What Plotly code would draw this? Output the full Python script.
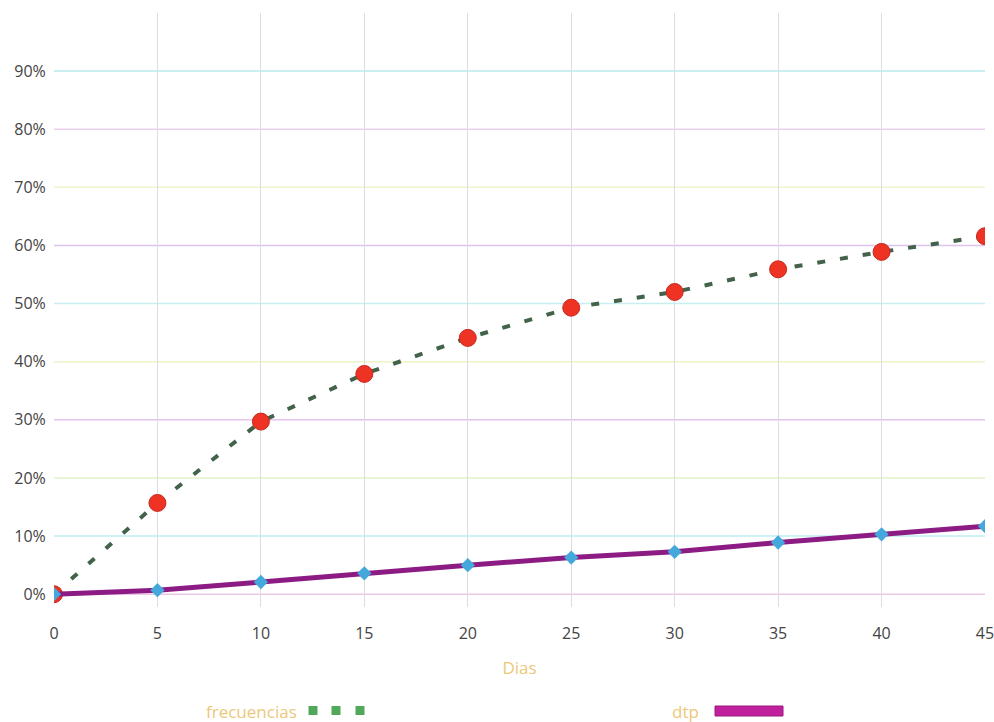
import plotly.graph_objects as go

dias = [0, 5, 10, 15, 20, 25, 30, 35, 40, 45]
frecuencias = [0.0, 15.7, 29.7, 37.9, 44.1, 49.3, 52.0, 55.9, 58.9, 61.6]
dtp = [0.0, 0.7, 2.1, 3.6, 5.0, 6.3, 7.3, 8.9, 10.3, 11.7]
y_ticks = [0, 10, 20, 30, 40, 50, 60, 70, 80, 90]
y_tick_labels = [f"{v}%" for v in y_ticks]
grid_colors = ["#ecc8e4", "#bfeef0", "#e0f2c8", "#e6c4ee", "#f0f2c8",
               "#c8eef2", "#dcc4ec", "#eef6cc", "#ecd0ee", "#b8eaea"]

font = "'Open Sans', sans-serif"
W, H = 994, 722
L, R, T, B = 54, 9, 13, 115

fig = go.Figure()

fig.add_trace(go.Scatter(
    x=dias, y=[v / 100 for v in frecuencias], mode="lines+markers",
    name="frecuencias",
    line=dict(color="#42634a", width=4, dash="8px,15px"),
    marker=dict(color="#ee3224", size=17, line=dict(color="#c42a20", width=1)),
))
fig.add_trace(go.Scatter(
    x=dias, y=[v / 100 for v in dtp], mode="lines+markers",
    name="dtp",
    line=dict(color="#8c1c84", width=5),
    marker=dict(color="#45a8dc", size=11, symbol="diamond"),
))

shapes = []
for v, c in zip(y_ticks, grid_colors):
    shapes.append(dict(type="line", xref="paper", yref="y", x0=0, x1=1,
                       y0=v / 100, y1=v / 100, line=dict(color=c, width=1.5),
                       layer="below"))

plot_w = W - L - R
plot_h = H - T - B
def px(xp):
    return (xp - L) / plot_w
def py(yp):
    return (H - B - yp) / plot_h

for cx in [313, 336, 360]:
    shapes.append(dict(type="rect", xref="paper", yref="paper",
                       x0=px(cx - 4.5), x1=px(cx + 4.5), y0=py(706), y1=py(715),
                       fillcolor="#52a85a", line=dict(width=0)))
shapes.append(dict(type="rect", xref="paper", yref="paper",
                   x0=px(715), x1=px(783), y0=py(706), y1=py(716),
                   fillcolor="#c0209c", line=dict(color="#9a1a80", width=1)))

annotations = [
    dict(text="frecuencias", xref="paper", yref="paper", x=px(299), y=py(711),
         xanchor="right", yanchor="middle", showarrow=False,
         font=dict(family=font, size=17, color="#ecc878")),
    dict(text="dtp", xref="paper", yref="paper", x=px(701), y=py(711),
         xanchor="right", yanchor="middle", showarrow=False,
         font=dict(family=font, size=17, color="#ecc878")),
]

fig.update_layout(
    width=W, height=H,
    margin=dict(l=L, r=R, t=T, b=B, autoexpand=False),
    paper_bgcolor="white", plot_bgcolor="white",
    showlegend=False,
    shapes=shapes, annotations=annotations,
    font=dict(family=font, size=16, color="#444444"),
    xaxis=dict(range=[0, 45], tickvals=dias, showgrid=True,
               gridcolor="#dcdce4", gridwidth=1, zeroline=False,
               showline=False, ticks="outside", ticklen=12,
               tickcolor="rgba(0,0,0,0)", ticklabeloverflow="allow",
               tickfont=dict(size=16, color="#444444"),
               title=dict(text="Dias", font=dict(size=17, color="#ecc878"), standoff=18)),
    yaxis=dict(range=[-0.022, 1.0], tickvals=[v / 100 for v in y_ticks],
               ticktext=y_tick_labels, showgrid=False, zeroline=False,
               showline=False, ticks="outside", ticklen=4,
               tickcolor="rgba(0,0,0,0)",
               tickfont=dict(size=16, color="#444444")),
)

fig.write_html("out.html", config={"displayModeBar": False},
               post_script="document.body.style.margin='0';document.body.style.overflow='hidden';")
